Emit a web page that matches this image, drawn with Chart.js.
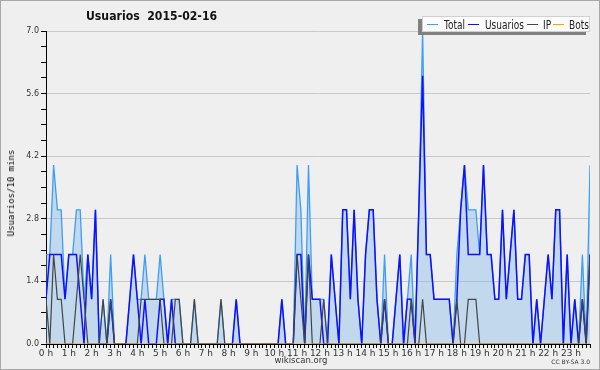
<!DOCTYPE html>
<html><head><meta charset="utf-8">
<script src="https://cdn.jsdelivr.net/npm/chart.js@4.4.0/dist/chart.umd.min.js"></script>
<style>
html,body{margin:0;padding:0;background:#efefef;}
#wrap{position:relative;width:600px;height:370px;background:#efefef;overflow:hidden;}
#c{position:absolute;left:0;top:0;}
#frame{position:absolute;left:0;top:0;width:600px;height:370px;box-sizing:border-box;border:1px solid #a8a8a8;pointer-events:none;}
#title{position:absolute;left:86px;top:8px;font:bold 13px "DejaVu Sans";color:#111;white-space:pre;line-height:16px;transform:scaleX(0.84);transform-origin:0 0;}
#ytitle{position:absolute;left:11px;top:193px;transform:translate(-50%,-50%) rotate(-90deg);font:9px "DejaVu Sans Mono";color:#000;white-space:nowrap;}
#legend{position:absolute;left:422px;top:16px;width:168px;height:16px;box-sizing:border-box;background:#fbfbfb;border:1px solid #d0d0d0;box-shadow:-4px 3px 0 #808080;}
#legend .ln{position:absolute;top:7px;width:11px;height:1px;}
#legend .tx{position:absolute;top:0px;font:12.5px "DejaVu Sans";line-height:15px;color:#222;white-space:nowrap;transform:scaleX(0.72);transform-origin:0 0;}
#site{position:absolute;left:301px;top:355px;transform:translateX(-50%);font:8.5px "DejaVu Sans";color:#333;}
#lic{position:absolute;right:10px;top:358px;font:6px "DejaVu Sans";color:#333;}
</style></head>
<body>
<div id="wrap">
<canvas id="c" width="600" height="370"></canvas>
<div id="title">Usuarios  2015-02-16</div>
<div id="ytitle">Usuarios/10 mins</div>
<div id="legend"></div>
<div id="site">wikiscan.org</div>
<div id="lic">CC BY-SA 3.0</div>
<div id="frame"></div>
</div>
<script>
const seriesNames = ['Total', 'Usuarios', 'IP', 'Bots'];
const hourLabels = ['0 h','1 h','2 h','3 h','4 h','5 h','6 h','7 h','8 h','9 h','10 h','11 h','12 h','13 h','14 h','15 h','16 h','17 h','18 h','19 h','20 h','21 h','22 h','23 h'];
const yTickLabels = ['0.0','1.4','2.8','4.2','5.6','7.0'];

const total = [
2,2,4,3,3,1,2,2,3,3,
1,2,1,3,0,1,0,2,0,0,
0,0,1,2,1,1,2,1,1,1,
2,1,0,1,1,1,0,0,0,1,
0,0,0,0,0,0,1,0,0,0,
1,0,0,0,0,0,0,0,0,0,
0,0,1,0,0,0,4,3,0,4,
1,1,1,1,0,2,1,0,3,3,
1,3,1,0,2,3,3,1,0,2,
0,0,1,2,0,1,2,0,3,7,
2,2,1,1,1,1,1,0,2,3,
4,3,3,3,2,4,2,2,1,1,
3,1,2,3,1,1,2,2,0,1,
0,1,2,1,3,3,0,2,0,1,
0,2,0,4];
const usuarios = [
1,2,2,2,2,1,2,2,2,1,
0,2,1,3,0,0,0,1,0,0,
0,0,1,2,1,0,1,0,0,0,
1,1,0,1,0,0,0,0,0,0,
0,0,0,0,0,0,0,0,0,0,
1,0,0,0,0,0,0,0,0,0,
0,0,1,0,0,0,2,2,0,2,
1,1,1,0,0,2,1,0,3,3,
1,3,1,0,2,3,3,1,0,1,
0,0,1,2,0,1,1,0,3,6,
2,2,1,1,1,1,1,0,1,3,
4,2,2,2,2,4,2,2,1,1,
3,1,2,3,1,1,2,2,0,1,
0,1,2,1,3,3,0,2,0,1,
0,1,0,2];
const ip = [
1,0,2,1,1,0,0,0,1,2,
1,0,0,0,0,1,0,1,0,0,
0,0,0,0,0,1,1,1,1,1,
1,0,0,0,1,1,0,0,0,1,
0,0,0,0,0,0,1,0,0,0,
0,0,0,0,0,0,0,0,0,0,
0,0,0,0,0,0,2,1,0,2,
0,0,0,1,0,0,0,0,0,0,
0,0,0,0,0,0,0,0,0,1,
0,0,0,0,0,0,1,0,0,1,
0,0,0,0,0,0,0,0,1,0,
0,1,1,1,0,0,0,0,0,0,
0,0,0,0,0,0,0,0,0,0,
0,0,0,0,0,0,0,0,0,0,
0,1,0,2];
const bots = [
0,0,0,0,0,0,0,0,0,0,
0,0,0,0,0,0,0,0,0,0,
0,0,0,0,0,0,0,0,0,0,
0,0,0,0,0,0,0,0,0,0,
0,0,0,0,0,0,0,0,0,0,
0,0,0,0,0,0,0,0,0,0,
0,0,0,0,0,0,0,0,0,0,
0,0,0,0,0,0,0,0,0,0,
0,0,0,0,0,0,0,0,0,0,
0,0,0,0,0,0,0,0,0,0,
0,0,0,0,0,0,0,0,0,0,
0,0,0,0,0,0,0,0,0,0,
0,0,0,0,0,0,0,0,0,0,
0,0,0,0,0,0,0,0,0,0,
0,0,0,0];

const colors = ['#3d9ef8', '#1010ff', '#444444', '#ffa000'];
const toPts = arr => arr.map((v, i) => ({x: i, y: v}));

// legend (HTML text); item x-offsets inside the box
const lineX = [4, 45, 104, 130];
const textX = [21, 62, 120, 146];
const lg = document.getElementById('legend');
seriesNames.forEach((n, k) => {
  const ln = document.createElement('span'); ln.className = 'ln';
  ln.style.left = lineX[k] + 'px'; ln.style.background = colors[k];
  const tx = document.createElement('span'); tx.className = 'tx';
  tx.style.left = textX[k] + 'px'; tx.textContent = n;
  lg.appendChild(ln); lg.appendChild(tx);
});

const isMajor = v => Math.abs(v / 1.4 - Math.round(v / 1.4)) < 1e-6;

new Chart(document.getElementById('c'), {
  type: 'line',
  data: {
    datasets: [
      {label: seriesNames[0], data: toPts(total), borderColor: colors[0], backgroundColor: 'rgba(120,180,235,0.38)', fill: 'origin', borderWidth: 1.3, order: 4},
      {label: seriesNames[1], data: toPts(usuarios), borderColor: colors[1], borderWidth: 1.5, fill: false, order: 3},
      {label: seriesNames[2], data: toPts(ip), borderColor: colors[2], borderWidth: 1.2, fill: false, order: 2},
      {label: seriesNames[3], data: toPts(bots), borderColor: colors[3], borderWidth: 1, fill: false, order: 1}
    ]
  },
  options: {
    responsive: false, animation: false, devicePixelRatio: 1,
    layout: {padding: {left: 0, right: 10, top: 31, bottom: 0}},
    elements: {point: {radius: 0}, line: {tension: 0, borderJoinStyle: 'miter'}},
    plugins: {legend: {display: false}, title: {display: false}, tooltip: {enabled: false}},
    scales: {
      x: {
        type: 'linear', min: 0, max: total.length - 1,
        afterFit: s => { s.height = 26; },
        ticks: {stepSize: 1, maxTicksLimit: 200, autoSkip: false, maxRotation: 0, minRotation: 0, padding: 0,
          font: {family: 'DejaVu Sans', size: 9}, color: '#333',
          callback: v => (v % 6 === 0 ? hourLabels[v / 6] : '')},
        grid: {drawOnChartArea: false, tickColor: '#000', tickLength: 4},
        border: {color: '#000', width: 1}
      },
      y: {
        min: 0, max: 7,
        afterFit: s => { s.width = 46; },
        ticks: {stepSize: 0.35, maxTicksLimit: 100, autoSkip: false, padding: 2,
          font: {family: 'DejaVu Sans', size: 8}, color: '#333',
          callback: v => (isMajor(v) ? yTickLabels[Math.round(v / 1.4)] : '')},
        grid: {color: c => (c.tick && isMajor(c.tick.value) && c.tick.value > 0 ? '#c8c8c8' : 'rgba(0,0,0,0)'), tickColor: '#000', tickLength: 5},
        border: {color: '#000', width: 1}
      }
    }
  }
});
</script>
</body></html>
